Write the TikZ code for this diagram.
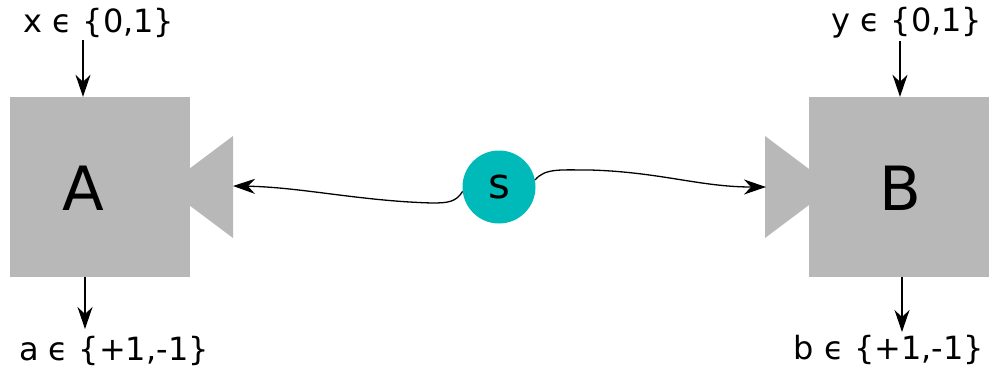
\documentclass[tikz,border=0pt]{standalone}
\usepackage{fontspec}
\setmainfont{DejaVu Sans}
\usetikzlibrary{arrows.meta,calc}
\definecolor{boxgray}{RGB}{184,184,184}
\definecolor{srcteal}{RGB}{0,185,185}
\begin{document}
\begin{tikzpicture}[x=1pt,y=-1pt,
  party/.style={rectangle, fill=boxgray, minimum width=180pt, minimum height=180pt, inner sep=0pt},
  bigletter/.style={inner sep=0pt, font=\fontsize{61}{61}\selectfont},
  io/.style={inner sep=0pt, font=\fontsize{32}{32}\selectfont},
  arr/.style={-{Stealth[length=22pt,width=15pt,inset=7pt]}, line width=1.3pt}]
\useasboundingbox (0,0) rectangle (990,375);

% detector bodies with their input cones
\fill[boxgray] (165,187) -- (233,136) -- (233,238) -- cycle;
\fill[boxgray] (833,187) -- (765,136) -- (765,238) -- cycle;
\node[party] (A) at (100,187) {};
\node[party] (B) at (898.5,187) {};
\node[bigletter] (Aname) at (83,188) {A};
\node[bigletter] (Bname) at (900,188) {B};

% source
\node[circle, fill=srcteal, minimum size=73pt, inner sep=0pt,
      font=\fontsize{42}{42}\selectfont] (s) at (499,187) {s};

% settings and outcomes
\node[io] (x) at (99,23) {x ϵ \{0,1\}};
\node[io] (a) at (114,351) {a ϵ \{+1,-1\}};
\node[io] (y) at (907,23) {y ϵ \{0,1\}};
\node[io] (b) at (889,350) {b ϵ \{+1,-1\}};

\coordinate (xa) at (83,40);
\coordinate (ya) at (900,41);
\coordinate (ae) at (85,329);
\coordinate (be) at (902,332);
\coordinate (cA) at (233,186);
\coordinate (cB) at (766,187);

\draw[arr] (xa) -- (A.north -| xa);
\draw[arr] (A.south -| ae) -- (ae);
\draw[arr] (ya) -- (B.north -| ya);
\draw[arr] (B.south -| be) -- (be);

% particles sent to both sides
\draw[arr] (s.187) .. controls (456,202) and (448,203) .. (432,203)
  .. controls (360,201) and (300,187) .. (cA);
\draw[arr] (s.11) .. controls (545,168) and (560,170) .. (590,170)
  .. controls (660,172) and (700,187) .. (cB);
\end{tikzpicture}
\end{document}
